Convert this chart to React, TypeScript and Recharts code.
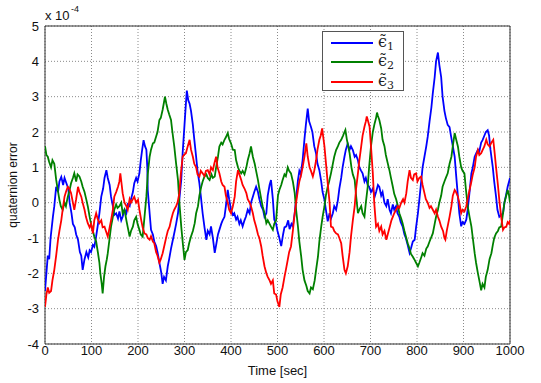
import { LineChart, Line, XAxis, YAxis, CartesianGrid, Legend, ReferenceArea, Label } from 'recharts';

// time [sec], error [x1e-4]
const eps1: [number, number][] = [
  [0, -2.5], [3, -2.0], [6, -1.5], [9, -1.6], [12, -1.0], [17, -0.4], [20, -0.1], [24, 0.45], [28, 0.3], [31, 0.6],
  [35, 0.73], [39, 0.5], [42, 0.7], [46, 0.55], [50, 0.4], [53, 0], [57, -0.3], [60, -0.6], [64, -0.7], [67, -0.9],
  [71, -1.05], [75, -1.4], [78, -1.5], [81, -1.9], [85, -1.6], [89, -1.4], [93, -1.55], [96, -1.35], [99, -1.4], [103, -1.2],
  [106, -1.25], [110, -0.95], [114, -0.6], [117, -0.3], [121, 0.17], [125, 0.4], [128, 0.7], [132, 0.92], [135, 0.7], [139, 0.5],
  [142, 0.17], [146, -0.1], [149, -0.35], [153, -0.3], [157, -0.45], [160, -0.25], [164, -0.5], [167, -0.4], [171, -0.2], [175, -0.3],
  [178, -0.05], [182, -0.1], [185, 0.1], [189, 0.3], [192, 0.55], [196, 0.7], [199, 0.6], [203, 0.83], [206, 1.2], [209, 1.5],
  [212, 1.77], [215, 1.6], [218, 1.5], [220, 1.0], [221, 0.35], [225, -0.3], [228, -0.77], [232, -0.9], [235, -1.1], [239, -1.23],
  [242, -1.4], [246, -1.7], [250, -1.98], [253, -2.3], [256, -2.1], [260, -2.2], [264, -1.8], [267, -1.6], [271, -1.3], [275, -1.05],
  [279, -0.8], [282, -0.6], [286, -0.3], [289, 0.1], [293, 0.64], [296, 1.4], [300, 2.2], [303, 2.8], [305, 3.17], [308, 2.9],
  [311, 2.8], [314, 2.6], [318, 2.2], [321, 1.8], [325, 1.3], [328, 0.9], [332, 0.55], [335, 0.2], [339, -0.3], [343, -0.7],
  [347, -1.05], [350, -0.8], [354, -0.9], [357, -0.67], [361, -1.0], [365, -1.42], [368, -1.2], [372, -0.9], [375, -0.77], [379, -0.6],
  [382, -0.5], [386, -0.4], [389, -0.1], [393, 0.36], [396, 0.1], [400, -0.2], [404, -0.35], [407, -0.3], [411, -0.48], [414, -0.4],
  [418, -0.6], [421, -0.5], [425, -0.67], [429, -0.5], [432, -0.4], [436, -0.2], [440, -0.3], [443, 0.0], [447, 0.17], [450, 0.3],
  [454, 0.45], [458, 0.3], [461, 0.1], [465, -0.1], [469, -0.2], [472, -0.4], [476, -0.3], [479, 0.2], [483, 0.5], [486, 0.64],
  [490, 0.1], [493, -0.48], [497, -0.6], [500, -0.8], [504, -1.0], [508, -1.23], [512, -0.9], [515, -0.7], [519, -0.67], [523, -0.5],
  [526, -0.75], [530, -0.6], [533, -0.67], [537, -0.3], [540, 0.1], [544, 0.64], [547, 0.9], [550, 0.8], [554, 1.2], [558, 1.8],
  [561, 2.2], [565, 2.66], [568, 2.3], [572, 2.14], [575, 2.0], [579, 1.6], [583, 1.39], [586, 1.1], [590, 0.92], [594, 0.6],
  [597, 0.3], [601, 0.08], [604, -0.2], [608, -0.53], [612, -0.3], [615, -0.45], [619, -0.3], [622, -0.1], [626, -0.2], [630, 0.08],
  [633, 0.4], [637, 0.7], [640, 1.0], [644, 1.3], [647, 1.5], [651, 1.67], [655, 1.5], [658, 1.6], [662, 1.49], [666, 1.3],
  [669, 1.35], [673, 1.2], [676, 1.0], [680, 0.9], [683, 0.83], [687, 0.6], [690, 0.7], [694, 0.5], [697, 0.45], [701, 0.3],
  [705, 0.4], [709, 0.17], [712, 0.3], [716, 0.5], [719, 0.45], [723, 0.2], [726, 0.3], [730, 0], [734, -0.1], [737, 0.1],
  [741, -0.2], [744, -0.3], [748, -0.05], [751, -0.2], [755, -0.1], [758, -0.3], [762, -0.4], [765, -0.55], [769, -0.67], [773, -0.9],
  [776, -1.0], [780, -1.2], [784, -1.42], [787, -1.3], [791, -1.1], [795, -1.05], [798, -0.7], [802, -0.3], [805, 0.08], [809, 0.6],
  [812, 1.0], [816, 1.3], [820, 1.6], [823, 1.86], [827, 2.3], [831, 2.7], [834, 3.1], [838, 3.55], [841, 4.0], [845, 4.25],
  [848, 3.9], [852, 3.55], [855, 3.0], [859, 2.6], [862, 2.4], [866, 2.2], [870, 2.14], [873, 1.9], [877, 1.6], [881, 1.3],
  [884, 0.8], [888, 0.17], [891, -0.3], [895, -0.67], [898, -0.55], [902, -0.6], [906, -0.48], [909, -0.2], [913, 0.3], [917, 0.83],
  [920, 1.0], [924, 1.3], [927, 1.39], [931, 1.5], [934, 1.45], [938, 1.7], [941, 1.77], [945, 1.9], [948, 2.0], [952, 2.05],
  [955, 1.9], [958, 1.5], [963, 1.0], [966, 0.6], [970, 0.17], [973, -0.2], [977, -0.4], [981, -0.35], [985, -0.3], [988, 0.0],
  [992, 0.25], [995, 0.45], [1000, 0.7],
];

const eps2: [number, number][] = [
  [0, 1.6], [3, 1.35], [6, 1.3], [9, 1.15], [13, 1.0], [16, 1.2], [20, 1.1], [24, 0.65], [27, 0.4], [31, 0.08],
  [34, -0.1], [38, -0.2], [42, 0.0], [45, -0.1], [49, 0.17], [52, 0.3], [56, 0.55], [60, 0.7], [63, 0.83], [67, 0.6],
  [70, 0.8], [74, 0.74], [78, 0.6], [81, 0.45], [85, 0.3], [89, 0.08], [92, -0.1], [96, -0.4], [99, -0.6], [103, -0.8],
  [106, -0.96], [110, -1.1], [114, -1.43], [117, -1.7], [119, -2.0], [122, -2.3], [124, -2.57], [127, -2.1], [130, -1.8], [133, -1.6],
  [135, -1.43], [139, -1.0], [142, -0.68], [146, -0.4], [149, -0.2], [153, -0.05], [156, -0.15], [160, -0.1], [164, 0.0], [167, -0.3],
  [171, -0.2], [175, -0.5], [178, -0.7], [182, -0.96], [185, -0.8], [189, -0.68], [192, -0.5], [196, -0.4], [199, -0.6], [203, -0.77],
  [206, -0.9], [210, -0.96], [214, -0.4], [218, 0.17], [221, 0.8], [225, 1.3], [228, 1.5], [232, 1.68], [235, 1.7], [239, 1.87],
  [242, 2.0], [246, 2.34], [249, 2.4], [253, 2.63], [256, 2.85], [258, 3.0], [261, 2.8], [264, 2.63], [267, 2.5], [271, 2.34],
  [274, 2.0], [278, 1.59], [282, 1.1], [286, 0.64], [289, 0.0], [293, -0.68], [296, -1.1], [300, -1.62], [303, -1.4], [307, -1.34],
  [310, -1.15], [314, -0.96], [318, -0.8], [322, -0.58], [325, -0.3], [329, -0.1], [332, 0.2], [336, 0.45], [339, 0.6], [343, 0.74],
  [347, 0.8], [350, 0.7], [354, 0.64], [358, 0.8], [361, 0.7], [365, 0.74], [368, 1.0], [372, 1.3], [375, 1.59], [379, 1.7],
  [382, 1.65], [386, 1.78], [389, 1.85], [393, 1.97], [396, 1.8], [400, 1.68], [404, 1.5], [408, 1.49], [411, 1.2], [415, 1.0],
  [418, 0.9], [422, 0.83], [425, 0.9], [429, 0.8], [433, 1.0], [436, 1.2], [440, 1.4], [443, 1.59], [447, 1.3], [451, 1.1],
  [454, 0.9], [458, 0.64], [461, 0.4], [465, 0.1], [468, -0.1], [472, -0.3], [476, -0.58], [479, -0.5], [483, -0.6], [486, -0.68],
  [490, -0.77], [493, -0.6], [497, -0.5], [501, 0.2], [504, 0.36], [508, 0.5], [511, 0.64], [515, 0.8], [518, 0.75], [522, 1.0],
  [525, 0.9], [529, 0.83], [533, 0.6], [537, 0.27], [540, -0.2], [544, -0.68], [547, -1.1], [551, -1.53], [554, -1.9], [558, -2.2],
  [562, -2.35], [565, -2.5], [569, -2.57], [572, -2.4], [576, -2.45], [580, -2.2], [583, -1.9], [587, -1.53], [590, -1.1], [594, -0.68],
  [597, -0.4], [601, -0.1], [604, 0.2], [608, 0.45], [611, 0.6], [615, 0.83], [619, 1.1], [622, 1.3], [626, 1.49], [630, 1.6],
  [633, 1.7], [637, 1.78], [641, 1.9], [644, 2.0], [646, 2.06], [649, 1.8], [652, 1.6], [655, 1.4], [659, 1.0], [662, 0.8],
  [666, 0.64], [669, 0.2], [673, -0.3], [676, -0.2], [680, -0.1], [683, -0.3], [687, -0.4], [690, 0.0], [694, 0.45], [697, 1.0],
  [701, 1.59], [705, 2.0], [709, 2.25], [712, 2.4], [714, 2.55], [716, 2.45], [719, 2.34], [723, 2.1], [726, 1.78], [730, 1.6],
  [733, 1.35], [737, 1.12], [741, 0.9], [744, 0.7], [748, 0.45], [751, 0.25], [755, 0.1], [759, -0.1], [762, -0.3], [766, -0.45],
  [769, -0.58], [773, -0.8], [776, -0.95], [780, -1.15], [784, -1.3], [787, -1.45], [791, -1.53], [794, -1.6], [798, -1.7], [802, -1.8],
  [805, -1.7], [809, -1.55], [812, -1.43], [816, -1.5], [820, -1.3], [823, -1.24], [827, -1.1], [830, -1.0], [834, -0.87], [838, -0.6],
  [841, -0.4], [845, -0.2], [848, 0.0], [852, 0.2], [855, 0.45], [859, 0.6], [862, 0.7], [866, 0.83], [870, 1.1], [874, 1.3],
  [877, 1.6], [881, 1.97], [884, 1.8], [888, 1.59], [891, 1.3], [895, 1.0], [898, 0.9], [902, 0.83], [905, 0.4], [909, -0.1],
  [913, -0.4], [917, -0.68], [920, -1.0], [924, -1.43], [927, -1.7], [931, -2.0], [934, -2.2], [938, -2.48], [941, -2.3], [945, -2.4],
  [948, -2.1], [952, -1.9], [956, -1.6], [960, -1.43], [963, -1.2], [966, -1.0], [970, -0.87], [974, -0.8], [977, -0.7], [981, -0.68],
  [985, -0.3], [988, 0.0], [992, 0.2], [995, 0.36], [998, 0.2], [1000, 0.0],
];

const eps3: [number, number][] = [
  [0, -2.95], [3, -2.6], [6, -2.4], [9, -2.55], [13, -2.5], [16, -2.2], [20, -1.9], [24, -1.5], [28, -1.05], [31, -0.8],
  [35, -0.5], [38, -0.2], [42, 0.17], [45, 0.3], [49, 0.45], [52, 0.4], [56, 0.27], [60, 0.0], [63, -0.2], [67, 0.1],
  [71, 0.45], [74, 0.3], [78, 0.17], [81, 0.0], [85, -0.2], [88, -0.4], [92, -0.58], [96, -0.7], [99, -0.6], [103, -0.87],
  [106, -0.5], [110, -0.3], [113, -0.45], [117, -0.58], [121, -0.5], [124, -0.7], [128, -0.68], [131, -0.8], [135, -0.96], [139, -0.7],
  [142, -0.5], [146, -0.2], [149, 0.17], [153, 0.3], [157, 0.45], [160, 0.6], [162, 0.83], [165, 0.5], [167, 0.27], [171, 0.0],
  [175, -0.1], [178, -0.2], [182, 0.1], [185, 0.0], [189, 0.1], [192, 0.17], [196, 0.0], [200, 0.08], [203, -0.2], [207, -0.5],
  [210, -0.7], [214, -0.87], [218, -0.9], [221, -1.0], [225, -1.05], [228, -0.95], [232, -1.1], [235, -1.15], [239, -1.4], [242, -1.5],
  [246, -1.7], [249, -1.6], [253, -1.43], [257, -1.2], [261, -0.96], [264, -0.8], [268, -0.68], [271, -0.5], [275, -0.3], [278, -0.2],
  [282, -0.1], [285, 0.0], [289, 0.27], [292, 0.8], [296, 1.3], [299, 1.35], [303, 1.4], [307, 1.6], [311, 1.78], [314, 1.5],
  [318, 1.3], [321, 1.1], [325, 1.0], [328, 0.8], [332, 0.74], [335, 0.9], [339, 0.83], [343, 0.75], [346, 0.9], [350, 0.92],
  [354, 0.8], [357, 1.0], [361, 0.92], [364, 1.1], [368, 1.3], [371, 1.0], [375, 0.83], [379, 0.6], [382, 0.5], [386, 0.45],
  [389, 0.2], [393, 0.0], [396, -0.2], [400, -0.3], [404, -0.1], [408, 0.17], [411, 0.6], [415, 0.92], [418, 0.8], [422, 0.64],
  [425, 0.5], [429, 0.4], [433, 0.27], [436, 0.1], [440, 0.0], [443, -0.1], [447, -0.3], [450, -0.5], [454, -0.68], [458, -0.9],
  [461, -1.0], [465, -1.24], [468, -1.5], [472, -1.8], [476, -2.0], [479, -2.1], [483, -2.2], [486, -2.3], [490, -2.2], [493, -2.57],
  [497, -2.6], [500, -2.8], [504, -2.95], [507, -2.6], [511, -2.4], [515, -2.1], [518, -1.9], [522, -1.62], [525, -1.4], [529, -1.24],
  [533, -0.8], [537, -0.3], [540, 0.0], [544, 0.36], [547, 0.6], [551, 0.8], [554, 1.0], [558, 1.3], [562, 1.68], [565, 1.3],
  [569, 1.0], [572, 0.9], [576, 0.74], [579, 0.9], [583, 1.2], [586, 1.5], [590, 1.78], [593, 1.9], [596, 2.1], [598, 1.9],
  [601, 1.59], [605, 1.0], [608, 0.55], [612, 0.0], [615, -0.68], [619, -0.7], [622, -0.8], [626, -0.87], [630, -0.9], [633, -1.0],
  [637, -1.15], [640, -1.5], [644, -1.9], [647, -2.0], [651, -1.8], [655, -1.4], [658, -0.96], [662, -0.5], [666, -0.1], [669, 0.4],
  [673, 0.83], [676, 1.2], [680, 1.59], [683, 1.9], [687, 2.15], [690, 2.3], [692, 2.44], [695, 2.3], [698, 2.15], [701, 1.6],
  [705, 0.83], [708, 0.0], [712, -0.68], [716, -0.6], [719, -0.8], [723, -0.68], [726, -0.9], [730, -0.8], [734, -1.05], [737, -0.9],
  [741, -0.7], [745, -0.5], [748, -0.4], [751, -0.3], [755, -0.2], [759, -0.1], [762, -0.15], [766, 0.0], [770, 0.1], [773, 0.0],
  [777, 0.27], [780, 0.6], [784, 0.92], [787, 0.7], [791, 0.64], [794, 0.8], [798, 0.83], [801, 0.6], [805, 0.7], [809, 0.74],
  [812, 0.5], [816, 0.27], [819, 0.1], [823, 0.0], [827, -0.15], [830, -0.1], [834, -0.2], [838, -0.3], [841, -0.2], [845, -0.4],
  [848, -0.5], [852, -0.68], [856, -0.8], [859, -1.0], [861, -1.05], [864, -0.8], [867, -0.6], [870, -0.4], [874, -0.1], [877, 0.2],
  [881, 0.36], [884, 0.3], [888, 0.17], [891, 0.0], [895, -0.3], [898, -0.2], [902, -0.25], [906, -0.1], [909, 0.1], [913, 0.36],
  [917, 0.6], [920, 0.8], [924, 1.0], [927, 1.3], [931, 1.49], [934, 1.35], [938, 1.4], [941, 1.49], [945, 1.6], [949, 1.78],
  [952, 1.65], [956, 1.59], [960, 1.7], [964, 1.78], [967, 1.4], [970, 1.0], [974, 0.5], [977, 0.08], [981, -0.4], [985, -0.77],
  [988, -0.7], [992, -0.68], [995, -0.55], [998, -0.6], [1000, -0.5],
];

const xTicks = [0, 100, 200, 300, 400, 500, 600, 700, 800, 900, 1000];
const yTicks = [-4, -3, -2, -1, 0, 1, 2, 3, 4, 5];

const series = [
  { key: 'e1', sub: '1', color: '#0000ff', points: eps1 },
  { key: 'e2', sub: '2', color: '#008000', points: eps2 },
  { key: 'e3', sub: '3', color: '#ff0000', points: eps3 },
];

const toRows = (pts: [number, number][]) => pts.map(([t, v]) => ({ t, v }));

const tickStyle = { fill: '#111', fontSize: 13, fontFamily: 'Liberation Sans, Arial, sans-serif' };

function EpsLegend() {
  return (
    <div
      style={{
        width: 82,
        height: 60,
        border: '1px solid #555',
        background: '#fff',
        boxSizing: 'border-box',
        paddingTop: 1,
      }}
    >
      {series.map((s) => (
        <div key={s.key} style={{ display: 'flex', alignItems: 'center', height: 19.5 }}>
          <svg width={52} height={6} style={{ display: 'block' }}>
            <line x1={8} y1={3} x2={50} y2={3} stroke={s.color} strokeWidth={1.8} />
          </svg>
          <span
            style={{
              fontFamily: 'DejaVu Serif, Liberation Serif, serif',
              fontSize: 16,
              color: '#222',
              marginLeft: 3,
              lineHeight: '16px',
            }}
          >
            {'\u03F5\u0303'}
            <span style={{ fontSize: 11, position: 'relative', top: 3 }}>{s.sub}</span>
          </span>
        </div>
      ))}
    </div>
  );
}

export default function App() {
  return (
    <div style={{ position: 'absolute', left: 0, top: 0, background: '#fff' }}>
      <LineChart width={541} height={383} margin={{ top: 26, right: 31, bottom: 0, left: 0 }}>
        <CartesianGrid stroke="#8a8a8a" strokeDasharray="1 2" />
        <XAxis
          dataKey="t"
          type="number"
          domain={[0, 1000]}
          ticks={xTicks}
          allowDataOverflow
          height={39}
          axisLine={false}
          tickLine={false}
          tickSize={2}
          tickMargin={0}
          tick={tickStyle}
        >
          <Label
            value="Time [sec]"
            position="insideBottom"
            offset={8}
            style={{ fill: '#111', fontSize: 13, fontFamily: 'Liberation Sans, Arial, sans-serif' }}
          />
        </XAxis>
        <YAxis
          dataKey="v"
          type="number"
          domain={[-4, 5]}
          ticks={yTicks}
          allowDataOverflow
          width={45}
          axisLine={false}
          tickLine={false}
          tickSize={3}
          tickMargin={3}
          tick={tickStyle}
        >
          <Label
            content={() => (
              <g fontFamily="Liberation Sans, Arial, sans-serif" fill="#111">
                <text x={17} y={185} fontSize={12} textAnchor="middle" transform="rotate(-90 17 185)">
                  quaternion error
                </text>
                <text x={45} y={20} fontSize={13}>
                  x 10
                </text>
                <text x={71} y={12} fontSize={9}>
                  -4
                </text>
              </g>
            )}
          />
        </YAxis>
        <ReferenceArea x1={0} x2={1000} y1={-4} y2={5} fill="none" stroke="#333" strokeWidth={1} />
        <Legend
          layout="vertical"
          align="center"
          verticalAlign="middle"
          content={() => <EpsLegend />}
          wrapperStyle={{ left: 322, top: 31, width: 82, height: 60 }}
        />
        {series.map((s) => (
          <Line
            key={s.key}
            data={toRows(s.points)}
            dataKey="v"
            type="linear"
            stroke={s.color}
            strokeWidth={1.8}
            dot={false}
            isAnimationActive={false}
          />
        ))}
      </LineChart>
    </div>
  );
}
